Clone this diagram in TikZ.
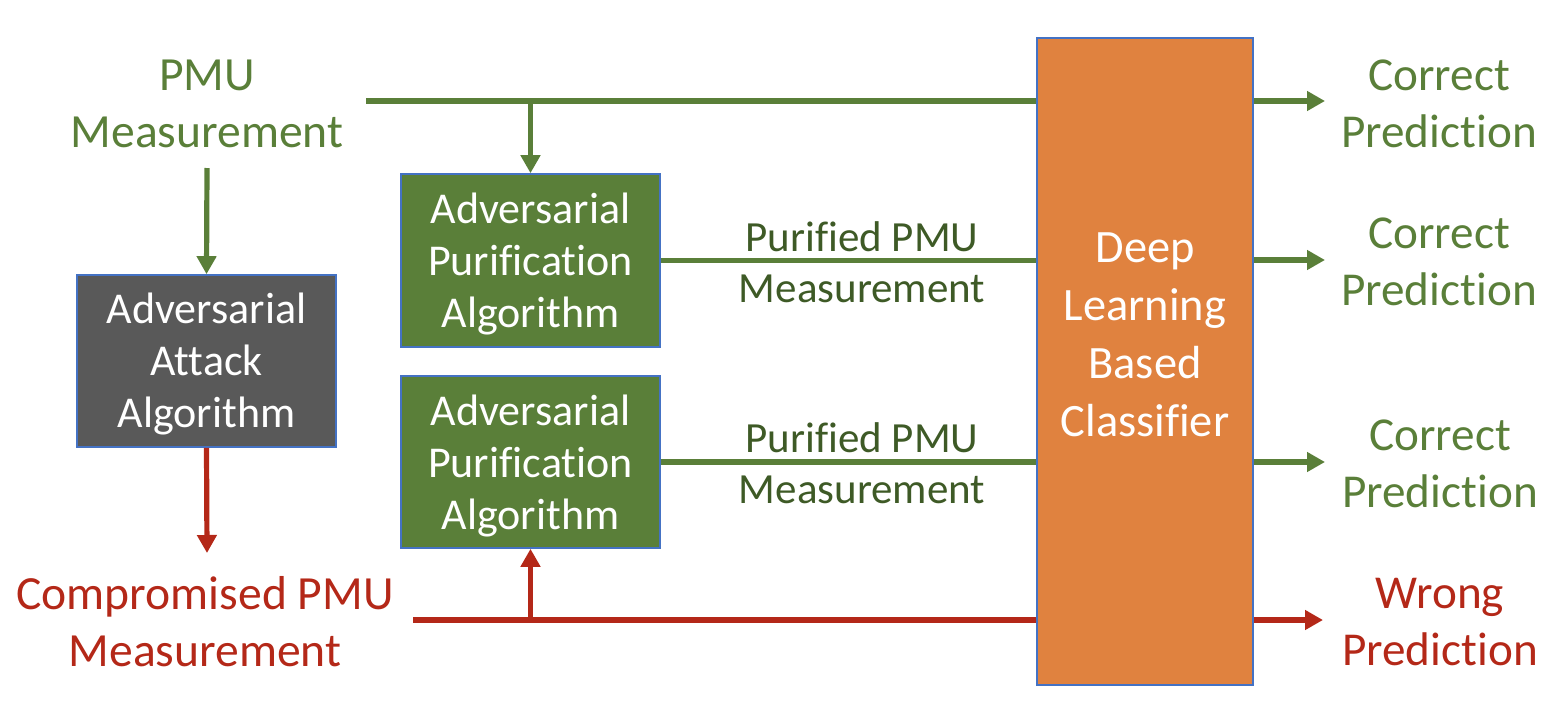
\documentclass[tikz,border=0pt]{standalone}
\usepackage{fontspec}
\setmainfont{Carlito}[Ligatures=NoCommon]
\usetikzlibrary{arrows.meta}
\definecolor{grn}{HTML}{5A7F39}
\definecolor{dgrn}{HTML}{3E5A26}
\definecolor{red2}{HTML}{B42818}
\definecolor{org}{HTML}{E0823F}
\definecolor{gry}{HTML}{595959}
\definecolor{bordr}{HTML}{4472C4}
\tikzset{
  blk/.style={draw=bordr, line width=0.8pt, text=white, align=center, inner sep=0pt,
     font=\fontsize{22}{26}\selectfont},
  lbl/.style={align=center, inner sep=0pt, font=\fontsize{23.6}{28.5}\selectfont},
  llbl/.style={lbl, font=\fontsize{23.8}{28.5}\selectfont},
  plbl/.style={align=center, inner sep=0pt, text=dgrn, font=\fontsize{21.5}{25.5}\selectfont},
  gline/.style={draw=grn, line width=2.6pt},
  rline/.style={draw=red2, line width=2.6pt},
  garr/.style={gline, -{Triangle[width=9.5pt,length=9pt]}},
  rarr/.style={rline, -{Triangle[width=9.5pt,length=9pt]}},
}
\begin{document}
\begin{tikzpicture}[x=0.5pt,y=-0.5pt]
\useasboundingbox (0,0) rectangle (1558,718);
% boxes
\node[blk, fill=gry, minimum width=129.5pt, minimum height=86pt] (atk) at (206.5,361) {};
\node[blk, fill=grn, minimum width=129.5pt, minimum height=86.5pt] (pur1) at (530.5,260.5) {};
\node[blk, fill=grn, minimum width=129.5pt, minimum height=86pt] (pur2) at (530.5,462) {};
\node[blk, fill=org, minimum width=108pt, minimum height=323.5pt] (cls) at (1145,361.5) {};
% box texts
\node[blk, draw=none] (atkt) at (206.5,364) {Adversarial\\Attack\\Algorithm};
\node[blk, draw=none] (pur1t) at (530.5,264) {Adversarial\\Purification\\Algorithm};
\node[blk, draw=none] (pur2t) at (530.5,465.5) {Adversarial\\Purification\\Algorithm};
\node[blk, draw=none, font=\fontsize{23.2}{29}\selectfont] (clst) at (1145,335) {Deep\\Learning\\Based\\Classifier};
% labels
\node[llbl, text=grn] (pmu) at (207,104) {PMU\\Measurement};
\node[llbl, text=red2] (cpmu) at (205,622) {Compromised PMU\\Measurement};
\node[plbl] (pl1) at (862,262) {Purified PMU\\Measurement};
\node[plbl] (pl2) at (862,463) {Purified PMU\\Measurement};
\node[lbl, text=grn] (o1) at (1439,104) {Correct\\Prediction};
\node[lbl, text=grn] (o2) at (1439,262) {Correct\\Prediction};
\node[lbl, text=grn] (o3) at (1440,464) {Correct\\Prediction};
\node[lbl, text=red2] (o4) at (1440,622) {Wrong\\Prediction};
% coordinates
\coordinate (t0) at (366,101);
\coordinate (r0) at (413,620);
\coordinate (a1) at (1325,101);
\coordinate (a2) at (1325,260);
\coordinate (a3) at (1325,462);
\coordinate (a4) at (1323,620);
\coordinate (pmudown) at (207,168);
\coordinate (cmptop) at (207,553);
% connectors
\draw[gline] (t0) -- (cls.west |- t0);
\draw[garr] (pur1.north |- t0) -- (pur1.north);
\draw[garr] (pmudown) -- (atk.north);
\draw[rarr] (atk.south) -- (cmptop);
\draw[rline] (r0) -- (cls.west |- r0);
\draw[rarr] (pur2.south |- r0) -- (pur2.south);
\draw[gline] (pur1.east) -- (cls.west |- pur1.east);
\draw[gline] (pur2.east) -- (cls.west |- pur2.east);
\draw[garr] (cls.east |- a1) -- (a1);
\draw[garr] (cls.east |- a2) -- (a2);
\draw[garr] (cls.east |- a3) -- (a3);
\draw[rarr] (cls.east |- a4) -- (a4);
\end{tikzpicture}
\end{document}
